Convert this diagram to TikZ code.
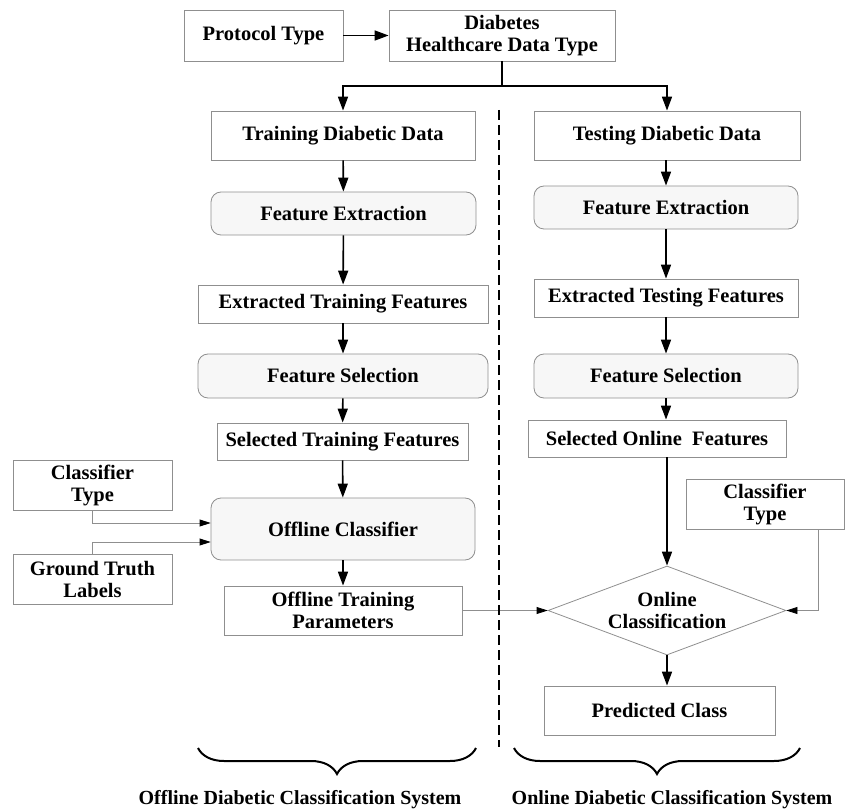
\documentclass[tikz,border=0pt]{standalone}
\usepackage{fontspec}
\setmainfont{Liberation Serif}
\usetikzlibrary{shapes.geometric,arrows.meta,decorations.pathreplacing}

\definecolor{boxline}{HTML}{8F8F8F}
\definecolor{boxfill}{HTML}{F7F7F7}

\begin{document}
\begin{tikzpicture}[x=1pt,y=-1pt,font=\fontsize{20.5}{22}\selectfont\bfseries]
        \tikzstyle{every node}=[align=center,inner sep=0pt]
        \tikzstyle{box}=[draw=boxline,line width=0.8pt,fill=white,rectangle]
        \tikzstyle{rbox}=[box,fill=boxfill,rounded corners=10pt]
        \tikzstyle{decide}=[draw=boxline,line width=0.8pt,diamond,aspect=2.67,minimum width=238pt,minimum height=89pt]
        \tikzstyle{flow}=[line width=1.6pt,-{Triangle[length=14pt,width=10pt]}]
        \tikzstyle{feed}=[draw=boxline,line width=0.8pt,-{Triangle[length=11pt,width=7pt,color=black,fill=black]}]
        \tikzstyle{sysbrace}=[line width=2pt,decorate,decoration={brace,amplitude=26pt}]
        \useasboundingbox (0,0) rectangle (854,810);
        % top row
        \node[box,minimum width=159pt,minimum height=51pt] (proto) at (263.5,35.5) {Protocol Type};
        \node[box,minimum width=226pt,minimum height=51pt] (diab) at (502,35.5) {Diabetes\\Healthcare Data Type};
        % offline side
        \node[box,minimum width=264pt,minimum height=49pt] (train) at (343,135.5) {Training Diabetic Data};
        \node[rbox,minimum width=265pt,minimum height=43pt] (fextL) at (343.5,213.5) {Feature Extraction};
        \node[box,minimum width=290pt,minimum height=38pt] (extrL) at (343,304) {Extracted Training Features};
        \node[rbox,minimum width=290pt,minimum height=44pt] (fselL) at (343,376) {Feature Selection};
        \node[box,minimum width=251pt,minimum height=37pt] (selL) at (342.5,441.5) {Selected Training Features};
        \node[rbox,minimum width=264pt,minimum height=62pt] (offcls) at (343,529) {Offline Classifier};
        \node[box,minimum width=238pt,minimum height=49pt] (otp) at (343,610.5) {Offline Training\\Parameters};
        \node[box,minimum width=159pt,minimum height=50pt] (ctypeL) at (92.5,485) {Classifier\\Type};
        \node[box,minimum width=159pt,minimum height=50pt] (gtruth) at (92.5,579) {Ground Truth\\Labels};
        % online side
        \node[box,minimum width=266pt,minimum height=49pt] (test) at (667,135.5) {Testing Diabetic Data};
        \node[rbox,minimum width=264pt,minimum height=43pt] (fextR) at (666,207.5) {Feature Extraction};
        \node[box,minimum width=264pt,minimum height=38pt] (extrR) at (666,298) {Extracted Testing Features};
        \node[rbox,minimum width=264pt,minimum height=44pt] (fselR) at (666,376) {Feature Selection};
        \node[box,minimum width=258pt,minimum height=37pt] (selR) at (657,438.5) {Selected Online~~Features};
        \node[box,minimum width=158pt,minimum height=50pt] (ctypeR) at (765,504) {Classifier\\Type};
        \node[decide] (onlcls) at (667,610.5) {Online\\Classification};
        \node[box,minimum width=231pt,minimum height=49pt] (pred) at (659.5,710.5) {Predicted Class};
        % captions
        \node[font=\fontsize{20}{22}\selectfont\bfseries] (offlbl) at (300,800) {Offline Diabetic Classification System};
        \node[font=\fontsize{20}{22}\selectfont\bfseries] (onlbl) at (672,800) {Online Diabetic Classification System};

        \coordinate (split) at (502,86);
        \draw[flow] (proto) -- (diab);
        \draw[line width=1.6pt] (diab.south) -- (split);
        \draw[flow] (split) -| (train.north);
        \draw[flow] (split) -| (test.north);

        \draw[flow] (train) -- (fextL);
        \draw[flow] (fextL) -- (extrL);
        \draw[flow] (extrL) -- (fselL);
        \draw[flow] (fselL) -- (selL);
        \draw[flow] (selL) -- (offcls);
        \draw[flow] (offcls) -- (otp);
        \draw[feed] (ctypeL.south) |- ([yshift=6pt]offcls.west);
        \draw[feed] (gtruth.north) |- ([yshift=-13pt]offcls.west);

        \draw[flow] (test.south -| fextR.north) -- (fextR.north);
        \draw[flow] (fextR) -- (extrR);
        \draw[flow] (extrR) -- (fselR);
        \draw[flow] (fselR) -- (fselR |- selR.north);
        \draw[flow] (onlcls.north |- selR.south) -- (onlcls.north);
        \draw[feed] (otp.east) -- (onlcls.west);
        \draw[feed] ([xshift=53pt]ctypeR.south) |- (onlcls.east);
        \draw[flow] (onlcls.south) -- (onlcls.south |- pred.north);

        % separator and braces
        \draw[line width=1.5pt,dash pattern=on 10pt off 5pt] (499,110) -- (499,747);
        \draw[sysbrace] (476,748) -- (198,748);
        \draw[sysbrace] (800,748) -- (514,748);
    \end{tikzpicture}
\end{document}
